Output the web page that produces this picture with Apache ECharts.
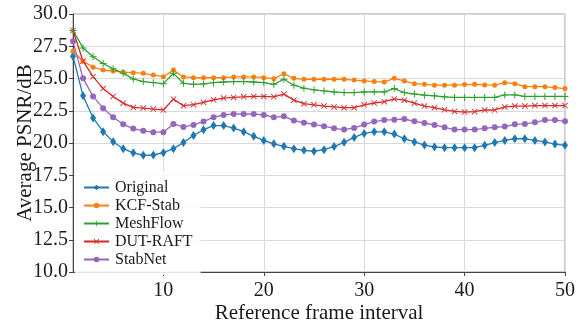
<!DOCTYPE html>
<html>
<head>
<meta charset="utf-8">
<script src="https://cdn.jsdelivr.net/npm/echarts@6/dist/echarts.min.js"></script>
<style>
  html, body { margin: 0; padding: 0; background: #fff; }
  #chart { width: 583px; height: 329px; }
</style>
</head>
<body>
<div id="chart"></div>
<script>
// reference frame interval 1..50
const frames = Array.from({ length: 50 }, (_, i) => i + 1);
const xTicks = [10, 20, 30, 40, 50];

const original = [26.73, 23.66, 21.94, 20.88, 20.1, 19.56, 19.24, 19.05, 19.07, 19.25,
  19.56, 20.04, 20.58, 21.03, 21.35, 21.35, 21.16, 20.88, 20.52, 20.2,
  19.94, 19.74, 19.56, 19.43, 19.36, 19.48, 19.72, 20.05, 20.43, 20.74,
  20.87, 20.87, 20.69, 20.33, 20.08, 19.84, 19.69, 19.64, 19.64, 19.64,
  19.64, 19.82, 20.03, 20.2, 20.33, 20.33, 20.2, 20.08, 19.92, 19.82];
const kcfStab = [27.11, 26.34, 25.88, 25.65, 25.58, 25.5, 25.45, 25.4, 25.27, 25.14,
  25.65, 25.12, 25.06, 25.06, 25.06, 25.06, 25.12, 25.12, 25.12, 25.06,
  24.99, 25.37, 25.01, 24.94, 24.94, 24.94, 24.94, 24.94, 24.88, 24.81,
  24.76, 24.73, 25.01, 24.81, 24.6, 24.55, 24.48, 24.48, 24.48, 24.53,
  24.55, 24.5, 24.48, 24.68, 24.6, 24.37, 24.37, 24.37, 24.3, 24.22];
const meshFlow = [28.72, 27.37, 26.68, 26.16, 25.75, 25.4, 24.97, 24.76, 24.68, 24.6,
  25.4, 24.63, 24.55, 24.58, 24.68, 24.73, 24.76, 24.76, 24.73, 24.68,
  24.55, 24.94, 24.48, 24.25, 24.12, 24.04, 23.96, 23.91, 23.91, 23.96,
  23.96, 23.96, 24.22, 23.91, 23.79, 23.71, 23.66, 23.58, 23.53, 23.53,
  23.53, 23.53, 23.53, 23.73, 23.73, 23.61, 23.61, 23.61, 23.61, 23.61];
const dutRaft = [28.72, 26.34, 25.14, 24.22, 23.61, 23.09, 22.76, 22.71, 22.63, 22.56,
  23.4, 22.89, 22.97, 23.15, 23.35, 23.48, 23.53, 23.58, 23.61, 23.61,
  23.58, 23.79, 23.32, 23.05, 22.96, 22.86, 22.8, 22.74, 22.74, 22.96,
  23.1, 23.2, 23.42, 23.32, 23.09, 22.86, 22.74, 22.57, 22.45, 22.4,
  22.43, 22.56, 22.56, 22.8, 22.86, 22.86, 22.9, 22.9, 22.9, 22.9];
const stabNet = [27.88, 25.01, 23.61, 22.7, 22.0, 21.45, 21.12, 20.94, 20.84, 20.84,
  21.48, 21.25, 21.4, 21.66, 22.0, 22.17, 22.25, 22.25, 22.25, 22.17,
  22.0, 22.07, 21.74, 21.57, 21.44, 21.3, 21.14, 21.04, 21.17, 21.43,
  21.66, 21.78, 21.81, 21.86, 21.68, 21.55, 21.4, 21.22, 21.04, 21.04,
  21.04, 21.14, 21.22, 21.27, 21.45, 21.48, 21.6, 21.78, 21.78, 21.68];

const FONT = "'Liberation Serif', 'Times New Roman', serif";
const TEXT_COLOR = "#1a1a1a";

// marker shapes (matplotlib-like)
const DIAMOND = "path://M0,-1L0.62,0L0,1L-0.62,0Z";
const PLUS = "path://M-1,-0.14H1V0.14H-1Z M-0.14,-1H0.14V1H-0.14Z";
const CROSS = "path://M-1,-0.8L-0.8,-1L1,0.8L0.8,1Z M1,-0.8L0.8,-1L-1,0.8L-0.8,1Z";

const seriesDefs = [
  { name: "Original", data: original, color: "#1f77b4", symbol: DIAMOND, size: [6, 9] },
  { name: "KCF-Stab", data: kcfStab, color: "#ff7f0e", symbol: "circle", size: 5 },
  { name: "MeshFlow", data: meshFlow, color: "#2ca02c", symbol: PLUS, size: 7 },
  { name: "DUT-RAFT", data: dutRaft, color: "#d62728", symbol: CROSS, size: 6 },
  { name: "StabNet", data: stabNet, color: "#9467bd", symbol: "circle", size: 6 },
];

const chart = echarts.init(document.getElementById("chart"), null, { renderer: "canvas" });

const series = seriesDefs.map((s) => ({
  name: s.name,
  type: "line",
  data: frames.map((f, i) => [f, s.data[i]]),
  symbol: s.symbol,
  symbolSize: s.size,
  showAllSymbol: true,
  itemStyle: { color: s.color },
  lineStyle: { color: s.color, width: 1.3 },
  emphasis: { disabled: true },
}));

const option = {
  animation: false,
  backgroundColor: "#fff",
  grid: {
    left: 73,
    right: 18,
    top: 14,
    bottom: 54,
    show: true,
    borderColor: "#9a9a9a",
    borderWidth: 1,
  },
  legend: {
    orient: "vertical",
    left: 75,
    top: 172,
    padding: [7, 8, 7, 8],
    backgroundColor: "rgba(255,255,255,0.85)",
    itemWidth: 25,
    itemHeight: 7,
    itemGap: 1,
    textStyle: { fontFamily: FONT, fontSize: 16, color: TEXT_COLOR, lineHeight: 17, padding: [0, 0, 0, 1] },
    data: seriesDefs.map((s) => s.name),
  },
  xAxis: {
    type: "value",
    min: 1,
    max: 50,
    name: "Reference frame interval",
    nameLocation: "middle",
    nameGap: 31,
    nameMoveOverlap: false,
    nameTextStyle: { fontFamily: FONT, fontSize: 21, color: TEXT_COLOR },
    axisLine: { lineStyle: { color: "#444", width: 1 } },
    axisTick: { show: true, length: 4, customValues: xTicks, lineStyle: { color: "#444" } },
    axisLabel: {
      customValues: xTicks,
      margin: 9,
      fontFamily: FONT,
      fontSize: 20,
      color: TEXT_COLOR,
    },
    splitLine: { show: true, lineStyle: { color: "#d9d9d9", width: 1 } },
  },
  yAxis: {
    type: "value",
    min: 10,
    max: 30,
    interval: 2.5,
    name: "Average PSNR/dB",
    nameLocation: "middle",
    nameGap: 37,
    nameMoveOverlap: false,
    nameTextStyle: { fontFamily: FONT, fontSize: 21, color: TEXT_COLOR },
    axisLine: { show: true, lineStyle: { color: "#444", width: 1 } },
    axisTick: { show: true, length: 4, lineStyle: { color: "#444" } },
    axisLabel: {
      margin: 5,
      fontFamily: FONT,
      fontSize: 20,
      color: TEXT_COLOR,
      formatter: (v) => v.toFixed(1),
    },
    splitLine: { show: true, lineStyle: { color: "#d9d9d9", width: 1 } },
  },
  series,
};

chart.setOption(option);
</script>
</body>
</html>
